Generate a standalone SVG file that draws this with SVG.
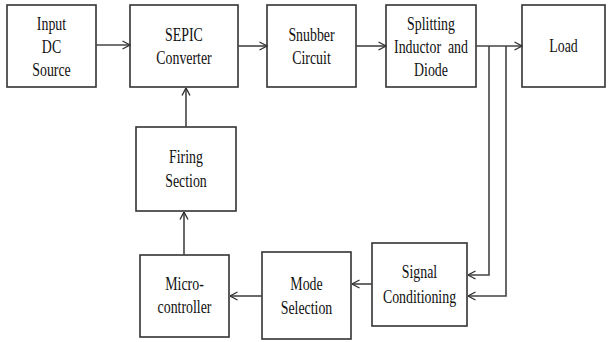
<svg xmlns="http://www.w3.org/2000/svg" width="608" height="342" viewBox="0 0 608 342">
<defs>
<marker id="arr" viewBox="0 0 10 10" refX="9.5" refY="5" markerWidth="10" markerHeight="10" markerUnits="userSpaceOnUse" orient="auto">
<polyline points="2,1 9.5,5 2,9" fill="none" stroke="#333" stroke-width="1.4"/>
</marker>
</defs>
<style>
rect{fill:#fff;stroke:#333;stroke-width:1.6}
text{font-family:"Liberation Serif","Times New Roman",serif;font-size:19px;fill:#111;text-anchor:middle}
.c line,.c polyline{stroke:#444;stroke-width:1.6;fill:none;marker-end:url(#arr)}
</style>
<rect x="0" y="0" width="608" height="342" style="stroke:none;fill:#fff"/>
<g id="input"><rect x="7" y="5" width="89" height="82"/>
<text transform="translate(51.5,30) scale(0.73,1)">Input</text>
<text transform="translate(51.5,53) scale(0.73,1)">DC</text>
<text transform="translate(51.5,76) scale(0.73,1)">Source</text></g>
<g id="sepic"><rect x="130" y="5" width="108" height="82"/>
<text transform="translate(184,41) scale(0.73,1)">SEPIC</text>
<text transform="translate(184,64) scale(0.73,1)">Converter</text></g>
<g id="snubber"><rect x="267" y="5" width="89" height="82"/>
<text transform="translate(311.5,41) scale(0.73,1)">Snubber</text>
<text transform="translate(311.5,64) scale(0.73,1)">Circuit</text></g>
<g id="split"><rect x="386" y="5" width="90" height="82"/>
<text transform="translate(431,30) scale(0.73,1)">Splitting</text>
<text transform="translate(431,53) scale(0.73,1)" xml:space="preserve">Inductor  and</text>
<text transform="translate(431,76) scale(0.73,1)">Diode</text></g>
<g id="load"><rect x="522" y="5" width="83" height="82"/>
<text transform="translate(563.5,52) scale(0.73,1)">Load</text></g>
<g id="firing"><rect x="136" y="127" width="100" height="84"/>
<text transform="translate(186,163) scale(0.73,1)">Firing</text>
<text transform="translate(186,187) scale(0.73,1)">Section</text></g>
<g id="micro"><rect x="140" y="255" width="89" height="82"/>
<text transform="translate(184.5,290) scale(0.73,1)">Micro-</text>
<text transform="translate(184.5,313) scale(0.73,1)">controller</text></g>
<g id="mode"><rect x="262" y="252" width="89" height="87"/>
<text transform="translate(306.5,290) scale(0.73,1)">Mode</text>
<text transform="translate(306.5,314) scale(0.73,1)">Selection</text></g>
<g id="signal"><rect x="372" y="243" width="95" height="83"/>
<text transform="translate(419.5,278) scale(0.73,1)">Signal</text>
<text transform="translate(419.5,303) scale(0.73,1)">Conditioning</text></g>
<g id="connectors" class="c">
<line x1="96" y1="45" x2="130" y2="45"/>
<line x1="238" y1="46" x2="267" y2="46"/>
<line x1="356" y1="46" x2="386" y2="46"/>
<line x1="476" y1="46" x2="522" y2="46"/>
<line x1="186" y1="127" x2="186" y2="88"/>
<line x1="184" y1="255" x2="184" y2="212"/>
<line x1="262" y1="296" x2="230" y2="296"/>
<line x1="372" y1="284" x2="352" y2="284"/>
<polyline points="489,46 489,275 468,275"/>
<polyline points="506,46 506,296 468,296"/>
</g>
</svg>
